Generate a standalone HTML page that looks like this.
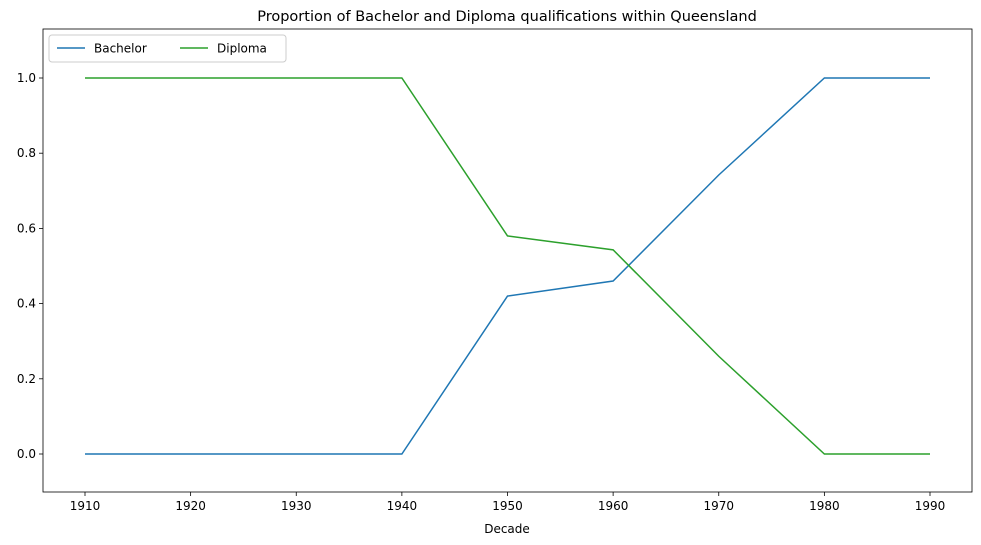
<!DOCTYPE html>
<html><head><meta charset="utf-8"><style>
body{margin:0;background:#fff;}
svg{display:block;font-family:"DejaVu Sans","Liberation Sans",sans-serif;}
</style></head><body>
<svg id="chart" width="981" height="545"></svg>
<script>
const decades=[1910,1920,1930,1940,1950,1960,1970,1980,1990];
const bachelor=[0,0,0,0,0.42,0.46,0.742,1,1];
const diploma=[1,1,1,1,0.58,0.543,0.26,0,0];
const yTicks=[0.0,0.2,0.4,0.6,0.8,1.0];
const ns="http://www.w3.org/2000/svg";
const svg=document.getElementById('chart');
const L=43,R=972,T=29,B=492;
const x=v=>85+(v-1910)*(930-85)/80;
const y=v=>454-v*376;
function mk(tag,attrs,parent){const e=document.createElementNS(ns,tag);for(const k in attrs)e.setAttribute(k,attrs[k]);(parent||svg).appendChild(e);return e;}
const title=mk('text',{x:507,y:21,'text-anchor':'middle','font-size':14.5,fill:'#000'});
title.textContent='Proportion of Bachelor and Diploma qualifications within Queensland';


decades.forEach(d=>{
 mk('line',{x1:x(d),x2:x(d),y1:B,y2:B+4,stroke:'#000','stroke-width':0.8});
 const t=mk('text',{x:x(d),y:B+18,'text-anchor':'middle','font-size':12});
 t.textContent=d;
 
 
});
yTicks.forEach(v=>{
 mk('line',{x1:L-4,x2:L,y1:y(v),y2:y(v),stroke:'#000','stroke-width':0.8});
 const t=mk('text',{x:L-7,y:y(v)+4,'text-anchor':'end','font-size':12});
 t.textContent=v.toFixed(1);
 
 
});
const xt=mk('text',{x:507,y:533,'text-anchor':'middle','font-size':12});
xt.textContent='Decade';


function line(vals,color,name){
 const p=mk('polyline',{points:vals.map((v,i)=>x(decades[i])+','+y(v)).join(' '),fill:'none',stroke:color,'stroke-width':1.5});
 
 
}
line(bachelor,'#1f77b4','bachelor-line');
line(diploma,'#2ca02c','diploma-line');
const frame=mk('rect',{x:L,y:T,width:R-L,height:B-T,fill:'none',stroke:'#000','stroke-width':0.8});


const lg=mk('g',{});


mk('rect',{x:49,y:35,width:237,height:27,rx:3,fill:'#fff',stroke:'#ccc','stroke-width':1},lg);
[['Bachelor','#1f77b4',57],['Diploma','#2ca02c',180]].forEach(([n,c,lx])=>{
 mk('line',{x1:lx,x2:lx+28,y1:48,y2:48,stroke:c,'stroke-width':1.5},lg);
 const t=mk('text',{x:lx+37,y:52.5,'font-size':12},lg);
 t.textContent=n;
 
 
});
</script>
</body></html>
